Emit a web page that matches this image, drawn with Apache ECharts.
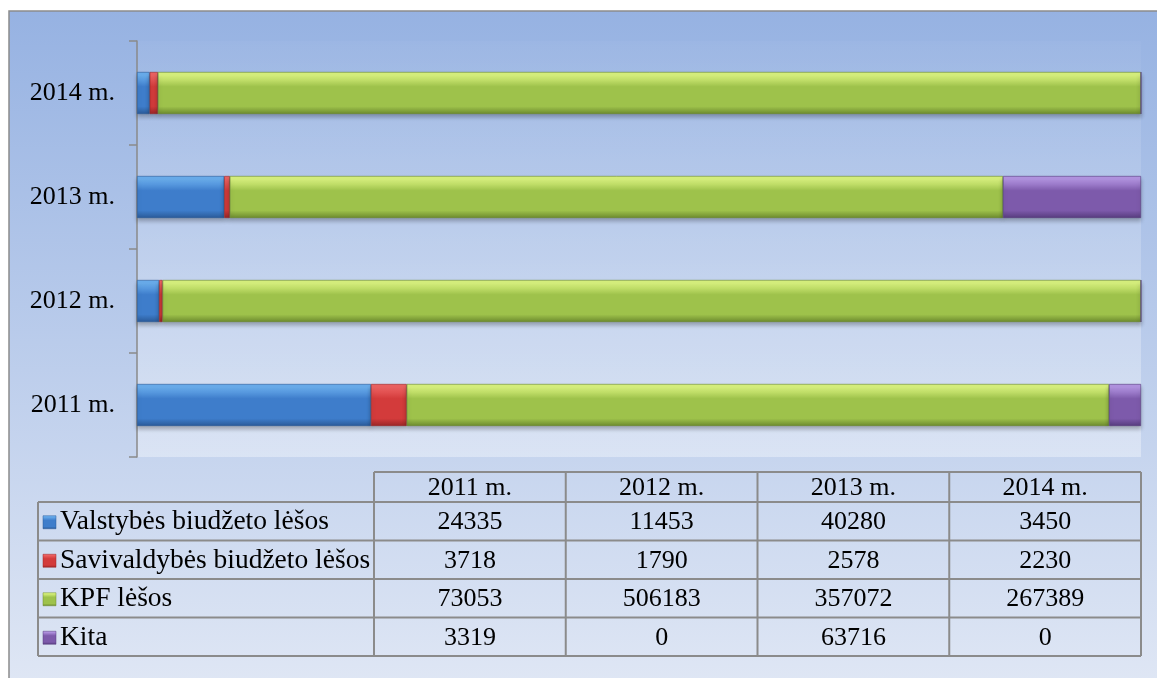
<!DOCTYPE html>
<html>
<head>
<meta charset="utf-8">
<script src="https://cdn.jsdelivr.net/npm/echarts@6/dist/echarts.min.js"></script>
<style>
  html, body { margin: 0; padding: 0; background: #fff; }
  #chart { width: 1157px; height: 678px; }
</style>
</head>
<body>
<div id="chart"></div>
<script>
// metai (kategorijos)
const years = ['2011 m.', '2012 m.', '2013 m.', '2014 m.']
// finansavimo šaltiniai
const seriesNames = ['Valstybės biudžeto lėšos', 'Savivaldybės biudžeto lėšos', 'KPF lėšos', 'Kita']
const valstybes = [24335, 11453, 40280, 3450]
const savivaldybes = [3718, 1790, 2578, 2230]
const kpf = [73053, 506183, 357072, 267389]
const kita = [3319, 0, 63716, 0]

const values = [valstybes, savivaldybes, kpf, kita]

// spalvos: [šviesi viršus, bazinė, tamsi apačia]
const palette = [
  ['#6aaeee', '#3e7dcb', '#2a5a98'],
  ['#ee6262', '#d33b3b', '#9a2626'],
  ['#d9f27e', '#9ec24b', '#6c8a2e'],
  ['#b394e2', '#7d5aab', '#573c7e']
]

function barGradient(c) {
  return new echarts.graphic.LinearGradient(0, 0, 0, 1, [
    { offset: 0, color: c[0] },
    { offset: 0.08, color: c[0] },
    { offset: 0.35, color: c[1] },
    { offset: 0.82, color: c[1] },
    { offset: 1, color: c[2] }
  ])
}

// procentinės dalys kiekvieniems metams
const totals = years.map((y, i) => values.reduce((s, arr) => s + arr[i], 0))
const shares = values.map(arr => arr.map((v, i) => v / totals[i] * 100))

// lentelės išdėstymas
const tbl = {
  legendLeft: 38,
  left: 374,
  right: 1141,
  top: 472,
  headH: 30,
  rowH: 38.5
}
const lineColor = '#8b8b8b'
const font = '"Liberation Serif", "Times New Roman", serif'
const fs = 26

function buildGraphic() {
  const els = []
  // fonas
  els.push({
    type: 'rect', z: -10, silent: true,
    shape: { x: 9, y: 11, width: 1170, height: 690 },
    style: {
      fill: new echarts.graphic.LinearGradient(0, 0, 0, 1, [
        { offset: 0, color: '#96b2e2' },
        { offset: 1, color: '#e1e8f5' }
      ]),
      stroke: '#8c8c8c', lineWidth: 1.5
    }
  })
  // braižymo sritis
  els.push({
    type: 'rect', z: -9, silent: true,
    shape: { x: 137, y: 41, width: 1004, height: 416 },
    style: {
      fill: new echarts.graphic.LinearGradient(0, 0, 0, 1, [
        { offset: 0, color: 'rgba(255,255,255,0.03)' },
        { offset: 1, color: 'rgba(255,255,255,0.35)' }
      ])
    }
  })

  const colW = (tbl.right - tbl.left) / years.length
  const bodyTop = tbl.top + tbl.headH
  const bodyBottom = bodyTop + tbl.rowH * seriesNames.length
  const line = (x1, y1, x2, y2) => els.push({
    type: 'line', z: 5, silent: true,
    shape: { x1, y1, x2, y2 },
    style: { stroke: lineColor, lineWidth: 2 }
  })
  // horizontalios linijos
  line(tbl.left, tbl.top, tbl.right, tbl.top)
  for (let r = 0; r <= seriesNames.length; r++) {
    const y = bodyTop + r * tbl.rowH
    line(tbl.legendLeft, y, tbl.right, y)
  }
  // vertikalios linijos
  line(tbl.legendLeft, bodyTop, tbl.legendLeft, bodyBottom)
  for (let c = 0; c <= years.length; c++) {
    const x = tbl.left + c * colW
    line(x, tbl.top, x, bodyBottom)
  }
  // antraštė
  years.forEach((y, c) => {
    els.push({
      type: 'text', z: 6, silent: true,
      x: tbl.left + (c + 0.5) * colW, y: tbl.top + tbl.headH / 2 + 1,
      style: { text: y, font: fs + 'px ' + font, fill: '#000', align: 'center', verticalAlign: 'middle' }
    })
  })
  // eilutės
  seriesNames.forEach((name, r) => {
    const cy = bodyTop + (r + 0.5) * tbl.rowH + 1
    els.push({
      type: 'rect', z: 6, silent: true,
      shape: { x: 43, y: cy - 6.5, width: 13, height: 13 },
      style: { fill: barGradient(palette[r]), stroke: palette[r][2], lineWidth: 0.5 }
    })
    els.push({
      type: 'text', z: 6, silent: true,
      x: 60, y: cy,
      style: { text: name, font: '27.5px ' + font, fill: '#000', align: 'left', verticalAlign: 'middle' }
    })
    values[r].forEach((v, c) => {
      els.push({
        type: 'text', z: 6, silent: true,
        x: tbl.left + (c + 0.5) * colW, y: cy,
        style: { text: String(v), font: fs + 'px ' + font, fill: '#000', align: 'center', verticalAlign: 'middle' }
      })
    })
  })
  return els
}

function chartOption() {
  return {
    backgroundColor: '#fff',
    animation: false,
    grid: { left: 137, right: 16, top: 41, bottom: 221, containLabel: false },
    xAxis: {
      type: 'value', min: 0, max: 100,
      show: false
    },
    yAxis: {
      type: 'category',
      data: years,
      axisLine: { show: true, lineStyle: { color: '#8a8a8a', width: 1.5 } },
      axisTick: { show: true, length: 8, lineStyle: { color: '#8a8a8a', width: 1.5 } },
      axisLabel: { color: '#000', fontSize: fs, fontFamily: font, margin: 22 }
    },
    graphic: buildGraphic(),
    series: seriesNames.map((name, i) => ({
      name,
      type: 'bar',
      stack: 'total',
      barWidth: 42,
      data: shares[i],
      itemStyle: {
        color: barGradient(palette[i]),
        borderColor: palette[i][2],
        borderWidth: 0.6,
        shadowColor: 'rgba(0,0,0,0.25)',
        shadowBlur: 4,
        shadowOffsetY: 3
      }
    }))
  }
}

const chart = echarts.init(document.getElementById('chart'))
chart.setOption(chartOption())
</script>
</body>
</html>
